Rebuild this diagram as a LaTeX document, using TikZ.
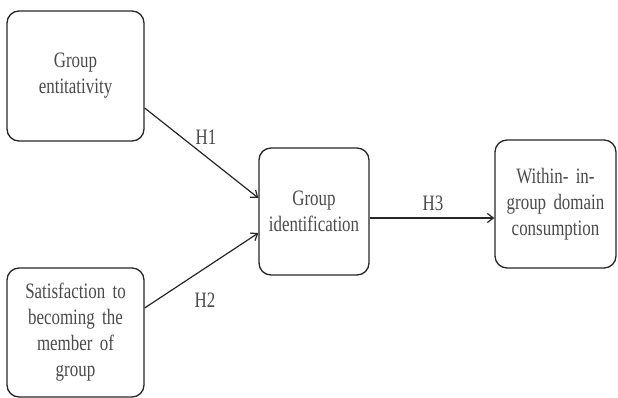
\documentclass[tikz,border=0pt]{standalone}
\usepackage{fontspec}
\setmainfont{Liberation Serif}[FakeStretch=0.77]
\usetikzlibrary{arrows.meta}
\definecolor{txt}{HTML}{4A4A4A}
\definecolor{ln}{HTML}{262626}
\begin{document}
\begin{tikzpicture}[x=1pt,y=-1pt,
  box/.style={draw=ln, line width=1.3pt, rounded corners=12pt, text=txt,
    align=center, inner sep=0pt, font=\fontsize{22}{26}\selectfont},
  hlabel/.style={text=txt, inner sep=0pt, font=\fontsize{22}{26}\selectfont},
  conn/.style={draw=ln, line width=1.2pt, -{Straight Barb[length=6pt,width=9pt,line width=1.2pt]}}]
\useasboundingbox (0,0) rectangle (618,398);
\node[box, minimum width=137pt, minimum height=130pt, text width=130pt] (b1) at (75.5,76) {Group\\entitativity};
\node[box, minimum width=137pt, minimum height=129pt, text width=130pt] (b2) at (75.5,332.5) {Satisfaction to\\becoming the\\member of\\group};
\node[box, minimum width=110pt, minimum height=127pt, text width=106pt] (b3) at (314,211.5) {Group\\identification};
\node[box, minimum width=121pt, minimum height=128pt, text width=116pt] (b4) at (555.5,204) {Within- in-\\group domain\\consumption};
\draw[conn] ([yshift=-32pt]b1.east) -- ([yshift=13.5pt]b3.west);
\draw[conn] ([yshift=24.5pt]b2.east) -- ([yshift=-21.5pt]b3.west);
\coordinate (h3s) at ([yshift=-6.5pt]b3.east);
\draw[conn] (h3s) -- (h3s -| b4.west);
\node[hlabel] (l1) at (206,137) {H1};
\node[hlabel] (l2) at (205,300) {H2};
\node[hlabel] (l3) at (433,203) {H3};
\end{tikzpicture}
\end{document}
